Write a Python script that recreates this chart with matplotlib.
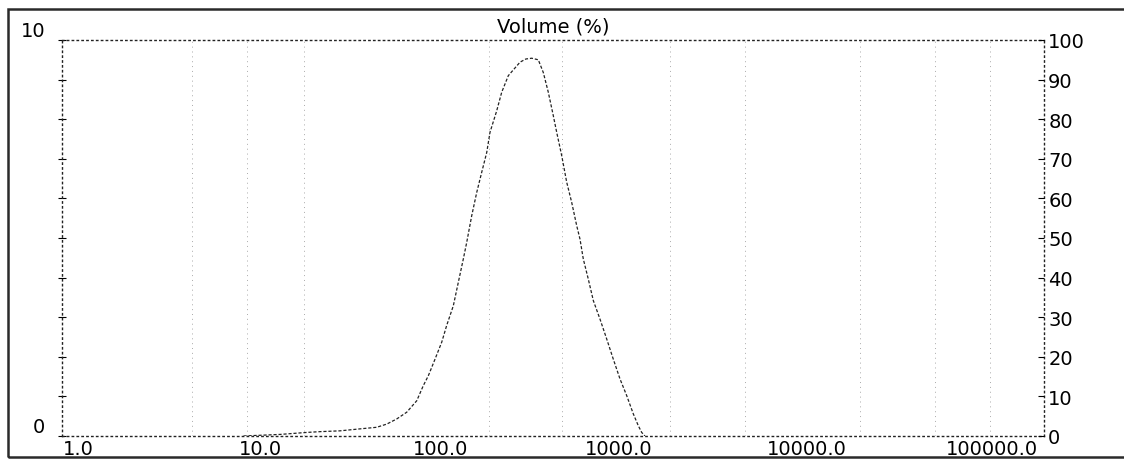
import matplotlib
matplotlib.use('Agg')
import matplotlib.pyplot as plt
import matplotlib.transforms as mtransforms
from matplotlib.patches import Rectangle

# particle size (um) vs volume density (%)
size_um = [8.4, 12.9, 17.6, 20.6, 26.0, 32.9, 40.0, 45.0, 50.6, 56.9, 64.0, 69.1,
           73.3, 79.3, 85.8, 90.9, 98.3, 104.2, 110.5, 115.0, 121.9, 129.3, 137.1,
           145.4, 151.1, 163.4, 173.3, 187.3, 214.8, 230.0, 246.4, 266.2, 282.2,
           299.3, 317.3, 330.2, 350.2, 371.3, 393.7, 417.6, 434.0, 451.1, 478.4,
           507.3, 548.8, 593.5, 641.3, 693.7, 750.3, 810.6, 859.6, 894.7, 929.0]
volume_pct = [0.0, 0.04, 0.09, 0.11, 0.13, 0.18, 0.22, 0.30, 0.43, 0.60, 0.89, 1.27,
              1.52, 1.94, 2.37, 2.79, 3.29, 3.88, 4.47, 4.89, 5.56, 6.15, 6.66,
              7.16, 7.67, 8.21, 8.68, 9.10, 9.44, 9.52, 9.54, 9.50, 9.18,
              8.68, 8.09, 7.67, 7.08, 6.41, 5.90, 5.31, 4.97, 4.47, 3.96,
              3.42, 2.95, 2.45, 1.94, 1.44, 1.02, 0.56, 0.26, 0.09, 0.0]

x_ticks = [1, 10, 100, 1000, 10000, 100000]
x_labels = ['1.0', '10.0', '100.0', '1000.0', '10000.0', '100000.0']
right_ticks = list(range(0, 101, 10))
grid_sizes = [4.6, 8.8, 17, 150, 350, 1250, 3000, 11500, 28000, 53000]

plt.rcParams['font.family'] = ['DejaVu Sans']

fig = plt.figure(figsize=(11.24, 4.6), dpi=100)
fig.patch.set_facecolor('white')

# outer frame of the printout
fig.patches.append(Rectangle((8 / 1124, 2 / 460), 1.2, 448 / 460, transform=fig.transFigure,
                             fill=False, edgecolor='#2a2a2a', linewidth=1.8))

ax = fig.add_axes([62 / 1124, 23 / 460, 982 / 1124, 396 / 460])
ax.set_xscale('log')
ax.set_xlim(1, 100000)
ax.set_ylim(0, 10)

for g in grid_sizes:
    ax.axvline(g, color='#aaaaaa', linestyle=(0, (1, 4)), linewidth=0.7, zorder=0)

ax.plot(size_um, volume_pct, color='#222222', linestyle=(0, (2.5, 1.5)), linewidth=0.9)

for s in ax.spines.values():
    s.set_linestyle((0, (1, 2.5)))
    s.set_linewidth(1.0)
    s.set_color('#222222')

ax.set_xticks(x_ticks)
ax.set_xticklabels(x_labels, fontsize=14)
ax.xaxis.set_minor_locator(matplotlib.ticker.NullLocator())
ax.tick_params(axis='x', length=0, pad=2)

# labels in the scan sit a little off their decades
label_shift = [16, 2, -14, -33, -41, -52]
for lab, dx in zip(ax.get_xticklabels(), label_shift):
    lab.set_transform(lab.get_transform() + mtransforms.ScaledTranslation(dx / 100, 0, fig.dpi_scale_trans))

ax.set_yticks(range(0, 11))
ax.set_yticklabels(['0'] + [''] * 9 + ['10'], fontsize=14, va='bottom')
ax.tick_params(axis='y', direction='inout', length=6, width=0.8, pad=9)

ax2 = ax.twinx()
ax2.set_ylim(0, 100)
ax2.set_yticks(right_ticks)
ax2.set_yticklabels([str(t) for t in right_ticks], fontsize=14)
ax2.tick_params(axis='y', direction='in', length=4, width=0.8, pad=3)
for s in ax2.spines.values():
    s.set_visible(False)

ax.set_title('Volume (%)', fontsize=14, pad=6)

fig.savefig('out.png', dpi=100)
